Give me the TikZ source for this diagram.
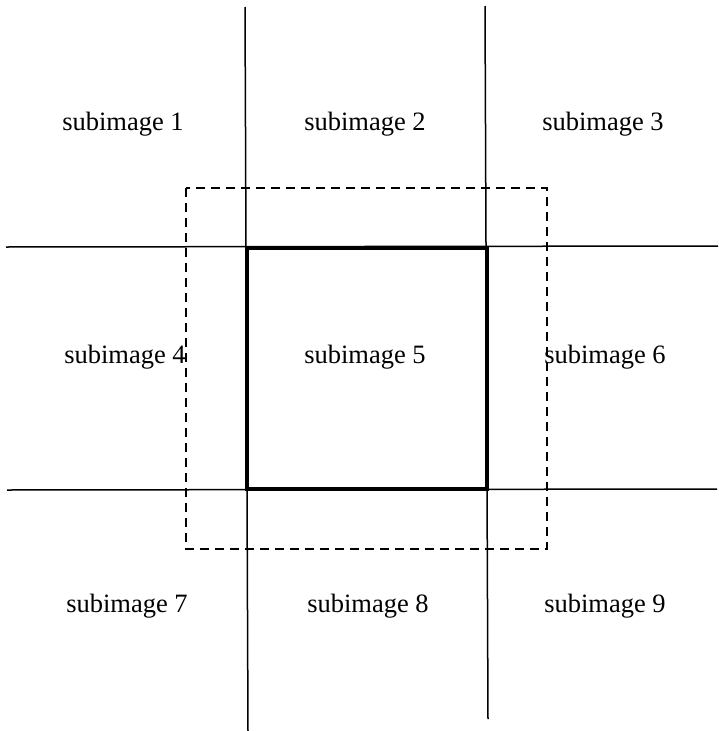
\documentclass[tikz,border=0pt]{standalone}
\usepackage{fontspec}
\setmainfont{Liberation Serif}
\begin{document}
\begin{tikzpicture}[x=1pt,y=-1pt,
  thinline/.style={line width=1.5pt},
  thickline/.style={line width=4.5pt},
  dashbox/.style={line width=1.3pt,dash pattern=on 9pt off 6pt},
  lbl/.style={font=\fontsize{26.5}{31}\selectfont,inner sep=0pt}]
\useasboundingbox (0,0) rectangle (718,731);
\coordinate (v1t) at (245,7);
\coordinate (v1b) at (248,731);
\coordinate (v2t) at (485,6);
\coordinate (v2b) at (488,719);
\coordinate (h1l) at (6,247);
\coordinate (h1r) at (718,246);
\coordinate (h2l) at (7,490);
\coordinate (h2r) at (717,489);
\draw[thinline] (v1t) -- (v1b);
\draw[thinline] (v2t) -- (v2b);
\draw[thinline] (h1l) -- (h1r);
\draw[thinline] (h2l) -- (h2r);
\draw[dashbox] (186,188) rectangle (547,549);
\draw[thickline] (247,248) rectangle (487,489);
\node[lbl] (s1) at (123,124) {subimage 1};
\node[lbl] (s2) at (365,124) {subimage 2};
\node[lbl] (s3) at (603,124) {subimage 3};
\node[lbl] (s4) at (125,357) {subimage 4};
\node[lbl] (s5) at (365,357) {subimage 5};
\node[lbl] (s6) at (605,357) {subimage 6};
\node[lbl] (s7) at (127,606) {subimage 7};
\node[lbl] (s8) at (368,606) {subimage 8};
\node[lbl] (s9) at (605,606) {subimage 9};
\end{tikzpicture}
\end{document}
